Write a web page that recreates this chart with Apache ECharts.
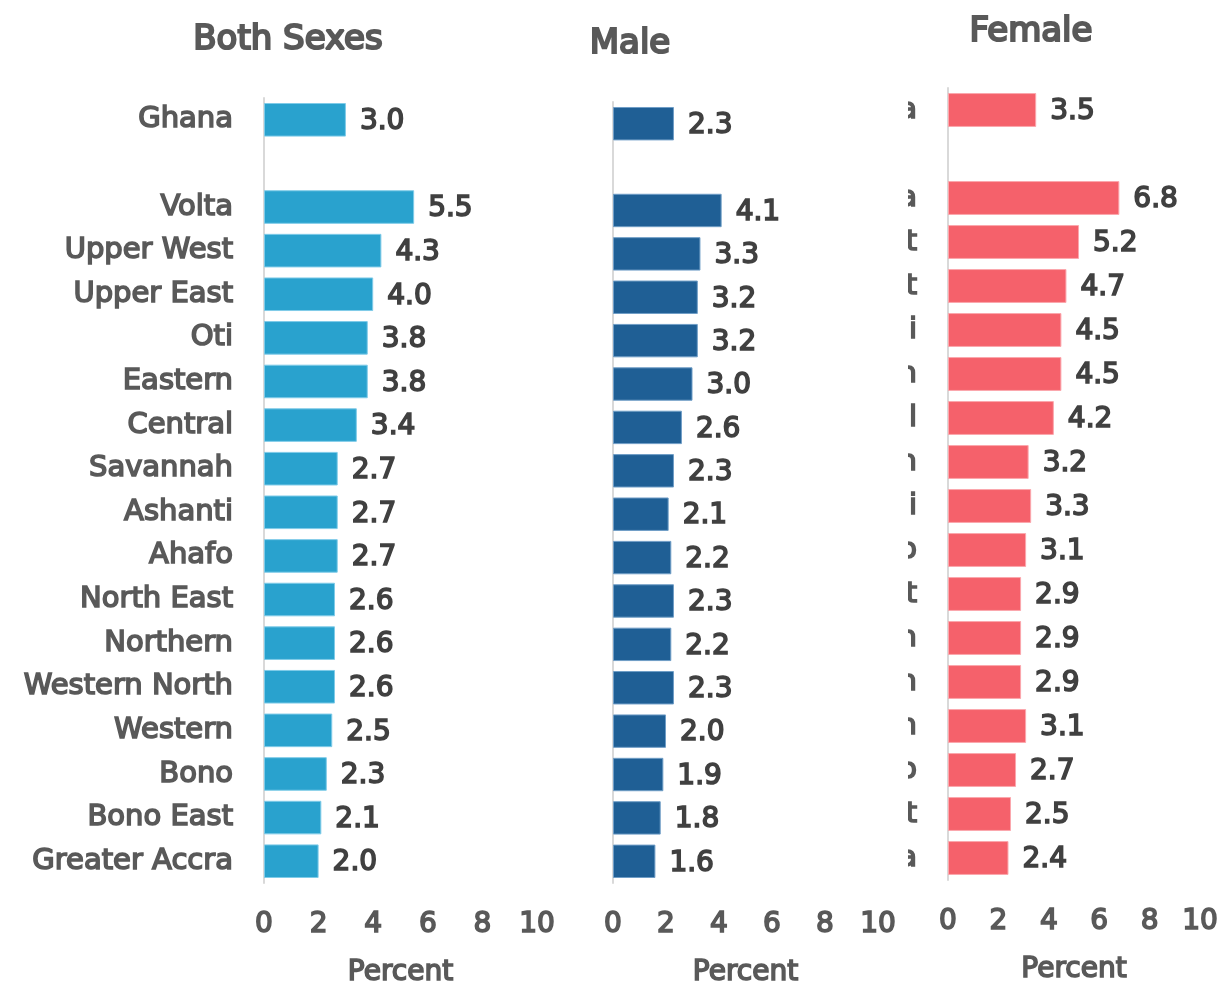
<!DOCTYPE html>
<html>
<head>
<meta charset="utf-8">
<script src="https://cdn.jsdelivr.net/npm/echarts@6/dist/echarts.min.js"></script>
<style>
  html, body { margin: 0; padding: 0; background: #fff; }
  #main { width: 1220px; height: 984px; }
</style>
</head>
<body>
<div id="main"></div>
<script>
// regions, top to bottom (blank row separates the national figure)
var regions = ['Ghana', '', 'Volta', 'Upper West', 'Upper East', 'Oti', 'Eastern', 'Central',
  'Savannah', 'Ashanti', 'Ahafo', 'North East', 'Northern', 'Western North', 'Western',
  'Bono', 'Bono East', 'Greater Accra'];
var bothSexes = [3.0, null, 5.5, 4.3, 4.0, 3.8, 3.8, 3.4, 2.7, 2.7, 2.7, 2.6, 2.6, 2.6, 2.5, 2.3, 2.1, 2.0];
var male = [2.3, null, 4.1, 3.3, 3.2, 3.2, 3.0, 2.6, 2.3, 2.1, 2.2, 2.3, 2.2, 2.3, 2.0, 1.9, 1.8, 1.6];
var female = [3.5, null, 6.8, 5.2, 4.7, 4.5, 4.5, 4.2, 3.2, 3.3, 3.1, 2.9, 2.9, 2.9, 3.1, 2.7, 2.5, 2.4];
var panelTitles = ['Both Sexes', 'Male', 'Female'];
var xTicks = [0, 2, 4, 6, 8, 10];

var font = 'DejaVu Sans';
var gray = '#595959';
var dark = '#404040';

// regular face plus a same-colour outline to get the heavier look of the source
function txt(size, color, bw) {
  return { fontFamily: font, fontSize: size, fontWeight: 'normal', color: color, textBorderColor: color, textBorderWidth: bw };
}

var chart = echarts.init(document.getElementById('main'));

var panels = [
  { grid: { left: 264, top: 98, width: 273, height: 785 }, title: { left: 288, top: 23 }, color: '#29A2CE', border: '#7FCBE8', data: bothSexes, cat: 'full' },
  { grid: { left: 613, top: 102, width: 265, height: 781 }, title: { left: 630, top: 27 }, color: '#1F5F95', border: '#6F9DC6', data: male, cat: 'none' },
  { grid: { left: 948, top: 88, width: 252, height: 792 }, title: { left: 1031, top: 15 }, color: '#F5616B', border: '#FBA7AD', data: female, cat: 'clipped' }
];

var option = {
  animation: false,
  backgroundColor: '#fff',
  title: [], grid: [], xAxis: [], yAxis: [], series: [],
  graphic: [{
    // the female panel's region labels are cut off in the source: only a sliver shows
    type: 'rect', z: 100,
    shape: { x: 870, y: 80, width: 38, height: 810 },
    style: { fill: '#fff' }
  }]
};

panels.forEach(function (p, i) {
  option.title.push({
    text: panelTitles[i], left: p.title.left, top: p.title.top, textAlign: 'center', padding: 0,
    textStyle: txt(34, gray, 2.2)
  });
  option.grid.push(Object.assign({ outerBoundsMode: 'none', containLabel: false }, p.grid));
  option.xAxis.push({
    type: 'value', gridIndex: i, min: 0, max: 10, interval: 2,
    name: 'Percent', nameLocation: 'middle', nameGap: 76,
    nameTextStyle: txt(28, gray, 1.6),
    axisLine: { show: false }, axisTick: { show: false }, splitLine: { show: false },
    axisLabel: Object.assign(txt(28, gray, 1.6), {
      margin: 28,
      formatter: function (v) { return xTicks.indexOf(v) >= 0 ? String(v) : ''; }
    })
  });
  option.yAxis.push({
    type: 'category', gridIndex: i, data: regions, inverse: true,
    axisLine: { show: true, lineStyle: { color: '#D9D9D9', width: 2 } },
    axisTick: { show: false },
    axisLabel: Object.assign(txt(29, gray, 1.6), {
      show: p.cat !== 'none', margin: 31,
      formatter: function (v) { return p.cat === 'clipped' ? v.slice(-1) : v; }
    })
  });
  option.series.push({
    type: 'bar', xAxisIndex: i, yAxisIndex: i, data: p.data, barCategoryGap: '23%',
    itemStyle: { color: p.color, borderColor: p.border, borderWidth: 1 },
    label: Object.assign(txt(28, dark, 1.6), {
      show: true, position: 'right', distance: 14, offset: [0, 2],
      formatter: function (d) { return d.value == null ? '' : d.value.toFixed(1); }
    })
  });
});

chart.setOption(option);
</script>
</body>
</html>
